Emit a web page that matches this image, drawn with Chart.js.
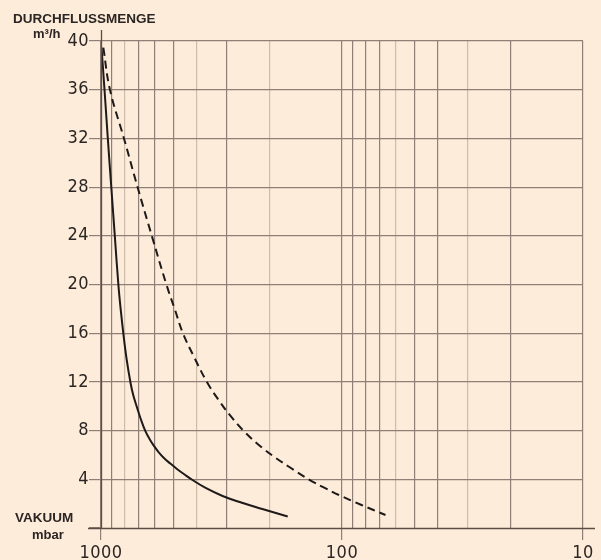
<!DOCTYPE html>
<html>
<head>
<meta charset="utf-8">
<script src="https://cdn.jsdelivr.net/npm/chart.js@4/dist/chart.umd.min.js"></script>
<style>
html,body{margin:0;padding:0;background:#FDECDA;}
#wrap{width:601px;height:560px;position:relative;}
</style>
</head>
<body>
<div id="wrap"><canvas id="c" width="601" height="560"></canvas></div>
<script>
// Data (x = vacuum in mbar, y = flow in m³/h)
const solidX = [995, 967, 937, 906, 876, 847, 828, 808, 784, 754, 735, 710, 684, 655, 629, 603, 577, 548, 517, 484, 450, 417, 368, 313, 262, 214, 168];
const solidY = [39.45, 36, 32, 27.95, 23.93, 19.98, 17.91, 15.99, 13.96, 11.91, 10.92, 9.94, 8.95, 7.97, 7.31, 6.74, 6.24, 5.75, 5.31, 4.85, 4.39, 3.94, 3.29, 2.63, 2.09, 1.56, 0.94];
const dashX = [978, 918, 803, 704, 614, 535, 493, 457, 409, 363, 325, 290, 254, 217, 188, 166, 136, 118, 103, 83, 66];
const dashY = [39.45, 36, 32, 27.95, 23.93, 19.98, 17.91, 15.99, 13.96, 11.97, 10.51, 9.20, 7.91, 6.68, 5.75, 5.03, 3.94, 3.29, 2.71, 1.89, 1.07];
const xGridValues = [10,20,30,40,50,60,70,80,90,100,200,300,400,500,600,700,800,900,1000];
const xLabelValues = [10, 100, 1000];
const lightXGrid = [800, 400, 200, 60, 30];
const yTickStep = 4;
const yMax = 40;

const DARK = '#5b4c45';
const GRID = '#8f7f76';
const LIGHTGRID = '#cdbcaa';
const TEXT = '#2b2523';
const TICKFONT = {family: '"Liberation Sans Narrow", "DejaVu Sans Condensed", sans-serif', size: 18};

const pts = (xs, ys) => xs.map((x, i) => ({x: x, y: ys[i]}));

const decor = {
  id: 'decor',
  beforeDraw(chart) {
    chart.ctx.letterSpacing = '0.5px';
  },
  afterDraw(chart) {
    const ctx = chart.ctx;
    const a = chart.chartArea;
    ctx.save();
    ctx.letterSpacing = '0px';
    ctx.strokeStyle = DARK;
    ctx.lineWidth = 1.3;
    ctx.beginPath();
    ctx.moveTo(a.left + 0.5, a.top - 11);
    ctx.lineTo(a.left + 0.5, a.bottom);
    ctx.stroke();
    ctx.beginPath();
    ctx.moveTo(a.left - 13, a.bottom + 0.5);
    ctx.lineTo(a.right + 12, a.bottom + 0.5);
    ctx.stroke();
    ctx.fillStyle = TEXT;
    ctx.font = 'bold 13.5px "Liberation Sans", Arial, sans-serif';
    ctx.textBaseline = 'alphabetic';
    ctx.textAlign = 'left';
    ctx.fillText('DURCHFLUSSMENGE', 13, 23);
    ctx.fillText('VAKUUM', 15, 522);
    ctx.font = 'bold 13px "Liberation Sans", Arial, sans-serif';
    ctx.fillText('m³/h', 33, 38);
    ctx.fillText('mbar', 32, 539);
    ctx.restore();
  }
};

new Chart(document.getElementById('c'), {
  type: 'line',
  data: {
    datasets: [
      {
        data: pts(solidX, solidY),
        borderColor: '#1e1a19',
        borderWidth: 2,
        pointRadius: 0,
        tension: 0.4,
        fill: false
      },
      {
        data: pts(dashX, dashY),
        borderColor: '#1e1a19',
        borderWidth: 2,
        borderDash: [8, 5],
        pointRadius: 0,
        tension: 0.4,
        fill: false
      }
    ]
  },
  options: {
    responsive: false,
    animation: false,
    events: [],
    layout: {padding: {top: 41, right: 18, left: 0, bottom: 0}},
    plugins: {legend: {display: false}, tooltip: {enabled: false}},
    scales: {
      x: {
        type: 'logarithmic',
        reverse: true,
        min: 10,
        max: 1000,
        afterBuildTicks: s => { s.ticks = xGridValues.map(v => ({value: v})); },
        afterFit: s => { s.height = 32; },
        border: {display: false},
        grid: {
          color: c => lightXGrid.includes(c.tick.value) ? LIGHTGRID : GRID,
          lineWidth: 1.2,
          tickLength: 12,
          tickColor: c => xLabelValues.includes(c.tick.value) ? GRID : 'rgba(0,0,0,0)'
        },
        ticks: {
          autoSkip: false,
          maxRotation: 0,
          padding: 3,
          color: TEXT,
          font: TICKFONT,
          callback: (v) => xLabelValues.includes(v) ? String(v) : ''
        }
      },
      y: {
        min: 0,
        max: yMax,
        afterFit: s => { s.width = 101; },
        border: {display: false},
        grid: {
          color: c => c.tick.value === 0 ? 'rgba(0,0,0,0)' : GRID,
          lineWidth: 1.2,
          tickLength: 12,
          tickColor: GRID
        },
        ticks: {
          stepSize: yTickStep,
          padding: 0,
          color: TEXT,
          font: TICKFONT,
          callback: v => v === 0 ? '' : String(v)
        }
      }
    }
  },
  plugins: [decor]
});
</script>
</body>
</html>
